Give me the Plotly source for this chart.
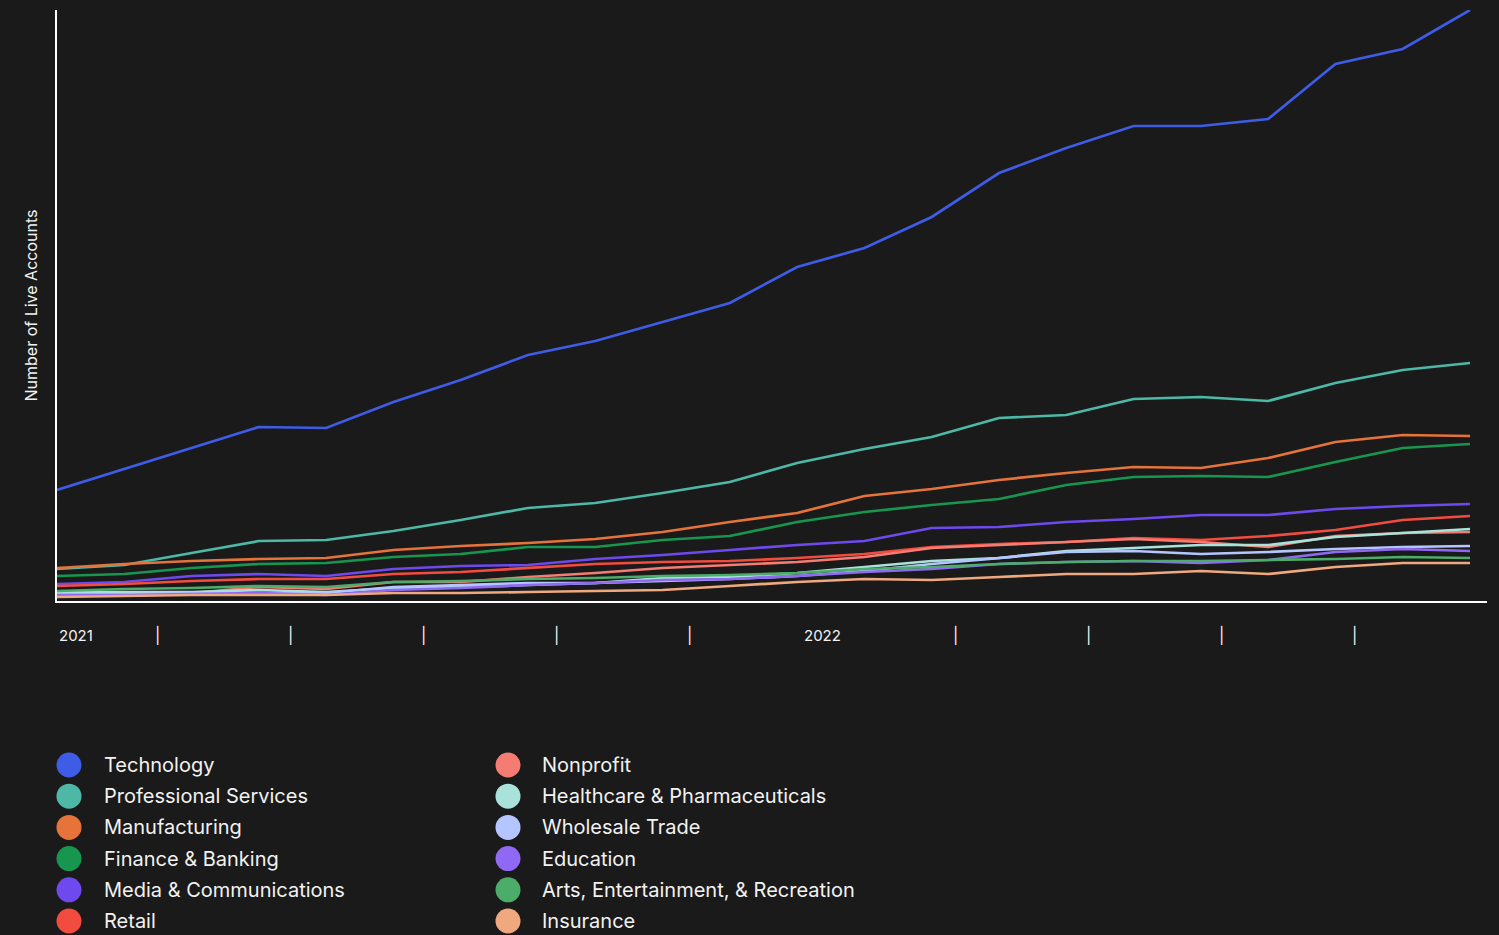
import plotly.graph_objects as go

# ---------------- data ----------------
months = ["2021-01", "2021-02", "2021-03", "2021-04", "2021-05", "2021-06",
          "2021-07", "2021-08", "2021-09", "2021-10", "2021-11", "2021-12",
          "2022-01", "2022-02", "2022-03", "2022-04", "2022-05", "2022-06",
          "2022-07", "2022-08", "2022-09", "2022-10"]

technology = [111, 132, 153, 174, 173, 199, 221, 246, 260, 279, 298, 334, 353, 384, 428, 453, 475, 475, 482, 537, 552, 591]
professional_services = [32, 36, 48, 60, 61, 70, 81, 93, 98, 108, 119, 138, 152, 164, 183, 186, 202, 204, 200, 218, 231, 238]
manufacturing = [33, 37, 40, 42, 43, 51, 55, 58, 62, 69, 79, 88, 105, 112, 121, 128, 134, 133, 143, 159, 166, 165]
finance_banking = [25, 27, 33, 37, 38, 44, 47, 54, 54, 61, 65, 79, 89, 96, 102, 116, 124, 125, 124, 139, 153, 157]
media_communications = [17, 19, 25, 27, 25, 32, 35, 36, 42, 46, 51, 56, 60, 73, 74, 79, 82, 86, 86, 92, 95, 97]
retail = [15, 17, 20, 22, 22, 27, 29, 33, 37, 39, 40, 43, 47, 54, 57, 59, 63, 61, 65, 71, 81, 85]
nonprofit = [8, 8, 8, 14, 12, 19, 19, 24, 28, 33, 36, 39, 44, 53, 56, 59, 62, 59, 54, 65, 68, 69]
healthcare = [9, 9, 9, 11, 9, 13, 14, 16, 18, 23, 24, 28, 34, 40, 43, 50, 53, 56, 56, 64, 68, 72]
wholesale = [7, 7, 8, 8, 8, 14, 16, 18, 18, 20, 22, 25, 30, 37, 43, 49, 50, 47, 49, 52, 54, 55]
education = [6, 6, 7, 8, 6, 11, 13, 16, 18, 21, 22, 25, 29, 32, 37, 39, 40, 38, 41, 49, 52, 50]
arts = [10, 12, 13, 15, 14, 19, 20, 22, 23, 25, 26, 28, 32, 34, 37, 39, 40, 40, 41, 42, 44, 43]
insurance = [4, 5, 6, 6, 6, 8, 8, 9, 10, 11, 15, 19, 22, 21, 24, 27, 27, 30, 27, 34, 38, 38]

series_names = ["Technology", "Professional Services", "Manufacturing", "Finance & Banking",
                "Media & Communications", "Retail", "Nonprofit", "Healthcare & Pharmaceuticals",
                "Wholesale Trade", "Education", "Arts, Entertainment, & Recreation", "Insurance"]
series_values = [technology, professional_services, manufacturing, finance_banking,
                 media_communications, retail, nonprofit, healthcare, wholesale,
                 education, arts, insurance]

tick_labels = ["2021", "|", "|", "|", "|", "|", "2022", "|", "|", "|", "|"]

# ---------------- style ----------------
colors = ["#3E5CE6", "#4DB8A6", "#E5733A", "#17964F", "#6E49EE", "#F24B40",
          "#F47C72", "#A9E2DA", "#B5C5FF", "#9069F2", "#4CAD6A", "#F0A97F"]
BG = "#1A1A1A"
TXT = "#F2F2F2"
FONT = "Inter, 'Noto Sans', sans-serif"

W, H = 1499, 935
ML, MR, MT, MB = 57, 12, 10, 334
PW, PH = W - ML - MR, H - MT - MB

x_idx = list(range(len(months)))
x_max = len(months) - 1
x_range = [0, x_max * PW / (1470 - ML)]
y_range = [0, max(technology)]


def px_x(px):
    return (px - ML) / PW


def px_y(py):
    return (H - MB - py) / PH


def data_x(px):
    return (px - ML) / (1470 - ML) * x_max


fig = go.Figure()
for name, vals, col in zip(series_names, series_values, colors):
    fig.add_trace(go.Scatter(x=x_idx, y=vals, name=name, mode="lines",
                             line=dict(color=col, width=2.7), showlegend=False,
                             customdata=months,
                             hovertemplate="%{customdata}: %{y}<extra>" + name + "</extra>"))

shapes = []
annotations = []

# legend (two columns of six)
for i, (name, col) in enumerate(zip(series_names, colors)):
    colm, row = divmod(i, 6)
    cx = 69 if colm == 0 else 508
    tx = 102 if colm == 0 else 540
    cy = 765 + row * 31.2
    shapes.append(dict(type="circle", xref="paper", yref="paper",
                       xsizemode="pixel", ysizemode="pixel",
                       xanchor=px_x(cx), yanchor=px_y(cy),
                       x0=-12.5, x1=12.5, y0=-12.5, y1=12.5,
                       fillcolor=col, line=dict(width=0)))
    annotations.append(dict(text=name, xref="paper", yref="paper",
                            x=px_x(tx), y=px_y(cy), xanchor="left", yanchor="middle",
                            showarrow=False, font=dict(size=20, color=TXT, family=FONT)))

# x tick labels
tick_px = [57, 157, 290, 423, 556, 689, 822, 955, 1088, 1221, 1354]
for lbl, tp in zip(tick_labels, tick_px):
    annotations.append(dict(text=lbl, xref="x", yref="paper",
                            x=data_x(tp), y=px_y(635),
                            xanchor="left" if lbl == "2021" else "center", yanchor="middle",
                            showarrow=False,
                            font=dict(size=15 if lbl != "|" else 16, color=TXT, family=FONT)))

# y axis title
annotations.append(dict(text="Number of Live Accounts", xref="paper", yref="paper",
                        x=px_x(30), y=0.5, textangle=-90, xanchor="center", yanchor="middle",
                        showarrow=False, font=dict(size=16, color=TXT, family=FONT)))

fig.update_layout(
    width=W, height=H,
    margin=dict(l=ML, r=MR, t=MT, b=MB),
    paper_bgcolor=BG, plot_bgcolor=BG,
    font=dict(family=FONT, color=TXT),
    shapes=shapes, annotations=annotations,
    xaxis=dict(range=x_range, showgrid=False, zeroline=False, showticklabels=False,
               ticks="", showline=True, linecolor="#FFFFFF", linewidth=1.5, fixedrange=True),
    yaxis=dict(range=y_range, showgrid=False, zeroline=False, showticklabels=False,
               ticks="", showline=True, linecolor="#FFFFFF", linewidth=1.5, fixedrange=True),
    hovermode="closest",
)

fig.write_html(
    "out.html",
    config={"displayModeBar": False},
    post_script="document.body.style.margin='0';document.body.style.background='#1A1A1A';"
                "document.body.style.overflow='hidden';",
)
